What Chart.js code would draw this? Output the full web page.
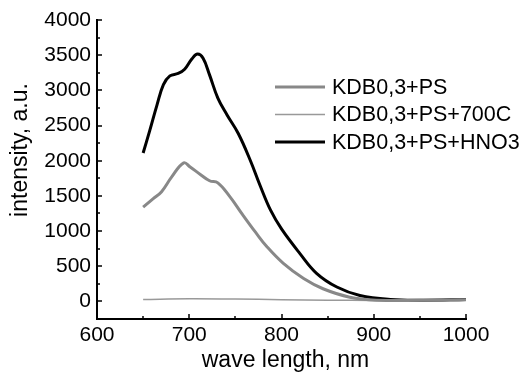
<!DOCTYPE html>
<html>
<head>
<meta charset="utf-8">
<script src="https://cdn.jsdelivr.net/npm/chart.js@4"></script>
<style>
  body { margin: 0; background: #fff; }
  canvas { display: block; }
</style>
</head>
<body>
<canvas id="myChart" width="528" height="374"></canvas>
<script>
// spectra (wavelength nm / intensity a.u.)
var wlPS = [650, 661, 670, 681, 694, 701, 712, 722, 731, 744, 758, 772, 784, 802, 824, 845, 874, 903, 950, 1000];
var intPS = [1340, 1460, 1560, 1770, 1970, 1910, 1805, 1715, 1685, 1490, 1230, 980, 780, 540, 325, 180, 60, 18, 15, 25];

var wl700 = [650, 700, 750, 800, 850, 900, 950, 1000];
var int700 = [28, 38, 33, 25, 18, 14, 12, 20];

var wlHNO3 = [650, 657, 665, 672, 679, 688, 695, 703, 709, 715, 722, 731, 741, 753, 766, 777, 788, 800, 820, 838, 860, 885, 918, 954, 1000];
var intHNO3 = [2110, 2420, 2790, 3080, 3205, 3240, 3300, 3450, 3515, 3455, 3220, 2890, 2650, 2390, 2010, 1640, 1300, 1030, 680, 400, 205, 85, 28, 18, 28];

var seriesNames = ['KDB0,3+PS', 'KDB0,3+PS+700C', 'KDB0,3+PS+HNO3'];
var xTicks = [600, 700, 800, 900, 1000];
var yTicks = [0, 500, 1000, 1500, 2000, 2500, 3000, 3500, 4000];
var xTitle = 'wave length, nm';
var yTitle = 'intensity, a.u.';

function pts(xs, ys) {
    return xs.map(function (x, i) { return { x: x, y: ys[i] }; });
}

var FONT = 'Liberation Sans, Arial, sans-serif';

// inward major/minor ticks + axis titles
var tickMarks = {
    id: 'tickMarks',
    afterDraw: function (chart) {
        var c = chart.ctx, xs = chart.scales.x, ys = chart.scales.y;
        var a = chart.chartArea;
        c.save();
        c.strokeStyle = '#000';
        c.lineWidth = 1.5;
        c.beginPath();
        for (var v = 600; v <= 1000; v += 50) {
            var px = Math.round(xs.getPixelForValue(v));
            var len = (v % 100 === 0) ? 5 : 3;
            c.moveTo(px, a.bottom);
            c.lineTo(px, a.bottom - len);
        }
        for (var w = -250; w <= 4000; w += 250) {
            var py = Math.round(ys.getPixelForValue(w));
            var l2 = (w % 500 === 0) ? 5 : 3;
            c.moveTo(a.left, py);
            c.lineTo(a.left + l2, py);
        }
        c.stroke();

        c.fillStyle = '#000';
        c.font = '23px ' + FONT;
        c.textAlign = 'center';
        c.textBaseline = 'middle';
        c.fillText(xTitle, (a.left + a.right) / 2 + 4, 361);
        c.translate(21, 150);
        c.rotate(-Math.PI / 2);
        c.fillText(yTitle, 0, 0);
        c.restore();
    }
};

// legend inside the plot
var innerLegend = {
    id: 'innerLegend',
    afterDraw: function (chart) {
        var c = chart.ctx;
        c.save();
        c.font = '21.5px ' + FONT;
        c.textBaseline = 'middle';
        c.textAlign = 'left';
        c.fillStyle = '#000';
        chart.data.datasets.forEach(function (ds, i) {
            var y = 87 + i * 27.5;
            c.strokeStyle = ds.borderColor;
            c.lineWidth = ds.borderWidth;
            c.beginPath();
            c.moveTo(275, y);
            c.lineTo(325, y);
            c.stroke();
            c.fillText(ds.label, 332, y + 1);
        });
        c.restore();
    }
};

var ctx = document.getElementById('myChart').getContext('2d');
var myChart = new Chart(ctx, {
    type: 'line',
    data: {
        datasets: [{
            label: seriesNames[0],
            data: pts(wlPS, intPS),
            borderColor: '#888888',
            borderWidth: 3,
            pointRadius: 0,
            tension: 0.4
        },
        {
            label: seriesNames[1],
            data: pts(wl700, int700),
            borderColor: '#999999',
            borderWidth: 1.5,
            pointRadius: 0,
            tension: 0.4
        },
        {
            label: seriesNames[2],
            data: pts(wlHNO3, intHNO3),
            borderColor: '#000000',
            borderWidth: 3,
            pointRadius: 0,
            tension: 0.4
        }]
    },
    options: {
        responsive: false,
        animation: false,
        layout: {
            padding: { top: 20, right: 62, left: 0, bottom: 0 }
        },
        plugins: {
            legend: { display: false },
            tooltip: { enabled: false }
        },
        scales: {
            x: {
                type: 'linear',
                min: 600,
                max: 1000,
                afterBuildTicks: function (s) {
                    s.ticks = xTicks.map(function (v) { return { value: v }; });
                },
                afterFit: function (s) { s.height = 55; },
                grid: { display: false, drawTicks: false },
                border: { display: true, color: '#000', width: 2 },
                ticks: {
                    color: '#000',
                    padding: 4,
                    maxRotation: 0,
                    font: { family: FONT, size: 21 },
                    callback: function (v) { return String(v); }
                }
            },
            y: {
                min: -250,
                max: 4000,
                afterBuildTicks: function (s) {
                    s.ticks = yTicks.map(function (v) { return { value: v }; });
                },
                afterFit: function (s) { s.width = 97; },
                grid: { display: false, drawTicks: false },
                border: { display: true, color: '#000', width: 2 },
                ticks: {
                    color: '#000',
                    padding: 6,
                    font: { family: FONT, size: 21 },
                    callback: function (v) { return String(v); }
                }
            }
        }
    },
    plugins: [tickMarks, innerLegend]
});
</script>
</body>
</html>
